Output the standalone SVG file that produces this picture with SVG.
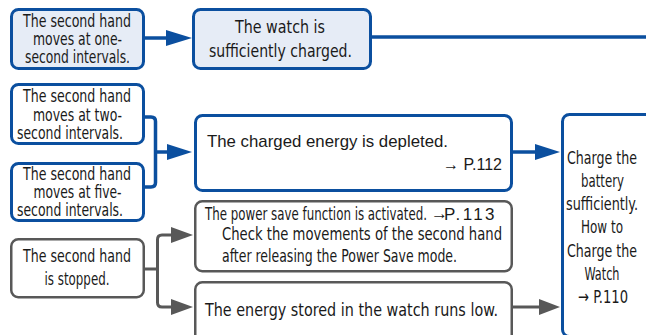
<svg xmlns="http://www.w3.org/2000/svg" width="646" height="335" viewBox="0 0 646 335">
<defs>
<style>
.bb{fill:#e6ecf6;stroke:#0b4f9f;stroke-width:3}
.bw{fill:#fff;stroke:#0b4f9f;stroke-width:3}
.gw{fill:#fff;stroke:#585858;stroke-width:2.5}
.t{font-family:"Liberation Sans Narrow","DejaVu Sans Condensed","Liberation Sans",sans-serif;font-size:18px;fill:#1a1a1a}
.s{font-family:"Liberation Sans",Arial,sans-serif;font-size:17px;fill:#1a1a1a}
.n{font-family:"Liberation Sans Narrow","DejaVu Sans Condensed","Liberation Sans",sans-serif;font-size:17px;fill:#1a1a1a}
.m{text-anchor:middle}
.bl{fill:none;stroke:#0b4f9f;stroke-width:3.5}
.gl{fill:none;stroke:#585858;stroke-width:3}
.bh{fill:#0b4f9f}
.gh{fill:#585858}
</style>
</defs>
<rect width="646" height="335" fill="#fff"/>
<g id="connectors">
<path class="bl" d="M145,38 H168"/>
<polygon class="bh" points="166,30 192,38 166,46"/>
<path class="bl" d="M371,37 H646"/>
<path class="bl" d="M145,117 H151 Q155.5,117 155.5,121.5 V182.5 Q155.5,187 151,187 H145"/>
<path class="bl" d="M155.5,152 H169"/>
<polygon class="bh" points="167,144 192,152 167,160"/>
<path class="bl" d="M512,152 H537"/>
<polygon class="bh" points="535,144 560,152 535,160"/>
<path class="gl" d="M144,269 H157"/>
<path class="gl" d="M173,235 H162 Q157.5,235 157.5,239.5 V302.5 Q157.5,307 162,307 H173"/>
<polygon class="gh" points="171,227 193,235 171,243"/>
<polygon class="gh" points="171,299 193,307 171,315"/>
<path class="gl" d="M512,307 H541"/>
<polygon class="gh" points="539,299 560,307 539,315"/>
</g>
<g id="n1">
<rect class="bb" x="11.5" y="9.5" width="132" height="59" rx="7"/>
<text class="t m" x="77" y="27" textLength="108" lengthAdjust="spacingAndGlyphs">The second hand</text>
<text class="t m" x="77.5" y="45" textLength="89" lengthAdjust="spacingAndGlyphs">moves at one-</text>
<text class="t m" x="77.5" y="63" textLength="105" lengthAdjust="spacingAndGlyphs">second intervals.</text>
</g>
<g id="n2">
<rect class="bb" x="193.5" y="9.5" width="177" height="59" rx="7"/>
<text class="t m" x="280" y="33" textLength="90" lengthAdjust="spacingAndGlyphs">The watch is</text>
<text class="t m" x="280.5" y="57" textLength="143" lengthAdjust="spacingAndGlyphs">sufficiently charged.</text>
</g>
<g id="n3">
<rect class="bw" x="11.5" y="84.5" width="132" height="59" rx="7"/>
<text class="t m" x="77" y="102" textLength="108" lengthAdjust="spacingAndGlyphs">The second hand</text>
<text class="t m" x="77.5" y="121" textLength="89" lengthAdjust="spacingAndGlyphs">moves at two-</text>
<text class="t m" x="70" y="139" textLength="106" lengthAdjust="spacingAndGlyphs">second intervals.</text>
</g>
<g id="n4">
<rect class="bw" x="11.5" y="163.5" width="132" height="57" rx="7"/>
<text class="t m" x="77" y="180" textLength="108" lengthAdjust="spacingAndGlyphs">The second hand</text>
<text class="t m" x="77.5" y="198" textLength="88" lengthAdjust="spacingAndGlyphs">moves at five-</text>
<text class="t m" x="70" y="216" textLength="106" lengthAdjust="spacingAndGlyphs">second intervals.</text>
</g>
<g id="n5">
<rect class="bw" x="195.5" y="115.5" width="316" height="75" rx="7"/>
<text class="s" x="207" y="147" textLength="241" lengthAdjust="spacingAndGlyphs">The charged energy is depleted.</text>
<text class="s" x="443" y="170" textLength="59" lengthAdjust="spacingAndGlyphs">→ P.112</text>
</g>
<g id="n6">
<rect class="gw" x="195.25" y="201.25" width="316.5" height="70" rx="7"/>
<text class="n" x="205" y="220" font-size="16"><tspan textLength="222" lengthAdjust="spacingAndGlyphs">The power save function is activated.</tspan><tspan class="s" x="431" y="219" font-size="12">→</tspan><tspan class="s" x="444" y="220" font-size="18" letter-spacing="2.4">P.113</tspan></text>
<text class="n" x="222" y="240" textLength="280" lengthAdjust="spacingAndGlyphs">Check the movements of the second hand</text>
<text class="n" x="222" y="262" textLength="235" lengthAdjust="spacingAndGlyphs">after releasing the Power Save mode.</text>
</g>
<g id="n7">
<rect class="gw" x="195.25" y="282.25" width="316.5" height="70" rx="7"/>
<text class="n" x="205" y="316" textLength="293" lengthAdjust="spacingAndGlyphs">The energy stored in the watch runs low.</text>
</g>
<g id="n8">
<rect class="gw" x="11.25" y="239.25" width="132.5" height="58" rx="7"/>
<text class="t m" x="77" y="262" textLength="108" lengthAdjust="spacingAndGlyphs">The second hand</text>
<text class="t m" x="77" y="285" textLength="65" lengthAdjust="spacingAndGlyphs">is stopped.</text>
</g>
<g id="n9">
<rect class="bw" x="562.5" y="114.5" width="95" height="222" rx="7"/>
<text class="t m" x="602" y="163.5" font-size="16.5" textLength="70" lengthAdjust="spacingAndGlyphs">Charge the</text>
<text class="t m" x="602.5" y="187" textLength="43" lengthAdjust="spacingAndGlyphs">battery</text>
<text class="t m" x="602" y="210" font-size="16.5" textLength="72" lengthAdjust="spacingAndGlyphs">sufficiently.</text>
<text class="t m" x="602" y="233" textLength="42" lengthAdjust="spacingAndGlyphs">How to</text>
<text class="t m" x="602" y="257" font-size="16.5" textLength="70" lengthAdjust="spacingAndGlyphs">Charge the</text>
<text class="t m" x="602" y="280" textLength="35" lengthAdjust="spacingAndGlyphs">Watch</text>
<text class="t m" x="603" y="303" textLength="50" lengthAdjust="spacingAndGlyphs">→ P.110</text>
</g>
</svg>
